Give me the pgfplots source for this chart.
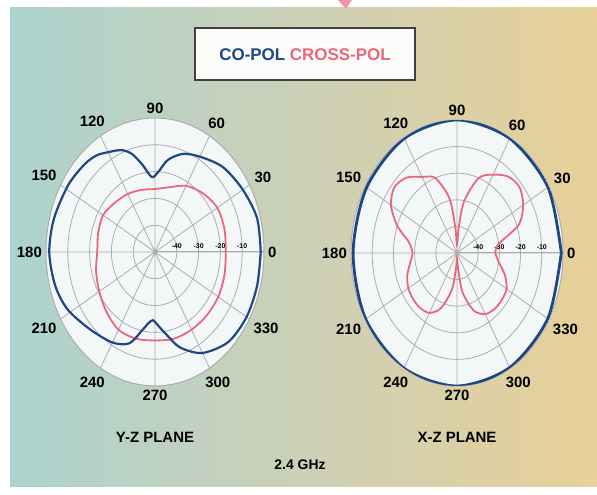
\documentclass[border=0pt]{standalone}
\usepackage{pgfplots}
\pgfplotsset{compat=1.18}
\usepgfplotslibrary{polar}
\usepackage{pgfplotstable}
\usepackage{fontspec}
\setmainfont{Liberation Sans}
\definecolor{bgL}{RGB}{172,211,206}
\definecolor{bgM}{RGB}{204,208,182}
\definecolor{bgR}{RGB}{232,208,152}
\definecolor{copol}{RGB}{30,70,130}
\definecolor{xpol}{RGB}{230,104,124}
\definecolor{plotbg}{RGB}{244,247,248}

% Y-Z plane, co-pol (dB)
\pgfplotstableread{
ang db
0 -1.5
15 -1.5
30 -3.5
45 -5.5
58 -8.5
70 -11
80 -15
87 -20
93 -22
100 -17
106 -12
112 -9
120 -7
127 -5
135 -4
148 -3
165 -2
180 -1.5
195 -2.5
208 -4.5
224 -8.5
240 -11
251 -14
259 -20.5
264 -23.5
268 -24.5
272 -23
280 -18.5
288 -12.5
300 -6.5
315 -2.5
330 -1.5
345 -1.5
360 -1.5
}\yzco
% Y-Z plane, cross-pol (dB)
\pgfplotstableread{
ang db
0 -17.5
15 -17
30 -17
45 -19
60 -21.5
75 -25
90 -26.5
105 -26
120 -25
135 -24
150 -22.5
165 -23
180 -23.5
195 -22
210 -20.5
225 -18.5
240 -16.5
255 -16.5
270 -17
285 -16.5
300 -16.5
315 -16.5
330 -16.5
345 -17
360 -17.5
}\yzx
% X-Z plane, co-pol (dB)
\pgfplotstableread{
ang db
0 -0.8
30 -0.5
60 -0.3
90 0
120 -0.3
150 -0.8
180 -1
210 -0.3
240 0
270 0
300 -0.3
330 -0.6
360 -0.8
}\xzco
% X-Z plane, cross-pol (dB)
\pgfplotstableread{
ang db
0 -32
10 -30
20 -19
30 -14
40 -11.5
50 -12.5
60 -16
70 -20
80 -30
85 -40
90 -47
95 -40
100 -29
110 -20
120 -17
130 -13
140 -11.5
150 -14
160 -20
170 -27
180 -29
190 -27.5
200 -25
210 -23.5
220 -23
230 -23
240 -24
250 -28
260 -36
265 -44
270 -48
275 -44
280 -35
290 -27
300 -23.5
310 -22.5
320 -22.5
330 -23
340 -26
350 -30
360 -32
}\xzx

\pgfplotsset{
  myp/.style={
    scale only axis,
    xmin=0, xmax=360,
    ymin=0, ymax=50,
    xtick={0,30,...,330},
    ytick={10,20,30,40},
    yticklabels={-40,-30,-20,-10},
    grid=major,
    major grid style={gray!65, line width=0.8pt},
    axis line style={gray!65, line width=1pt},
    xticklabel style={font=\fontsize{15}{15}\selectfont\bfseries, inner sep=4pt},
    yticklabel style={font=\fontsize{7}{7}\selectfont\bfseries},
    /pgf/number format/assume math mode=true,
    tick style={draw=none},
    axis background/.style={fill=plotbg},
  }
}

\begin{document}
\begin{tikzpicture}[x=1bp,y=1bp]
\path[use as bounding box] (0,0) rectangle (597,495);
\fill[white] (0,0) rectangle (597,495);
\shade[left color=bgL, right color=bgR, middle color=bgM] (10,8) rectangle (597,487);
\fill[xpol!70] (338,495) -- (352,495) -- (346,486) -- cycle;

% legend box
\draw[draw=black!75, line width=1.4pt, fill=white!92!bgM] (195,415) rectangle (415,467);
\node[font=\fontsize{17}{17}\selectfont\bfseries] at (305,440)
  {\textcolor{copol}{CO-POL} \textcolor{xpol}{CROSS-POL}};

\begin{polaraxis}[myp, width=218bp, height=268bp, at={(155bp,243bp)}, anchor=center]
\addplot[xpol, line width=1.8pt, smooth] table[x=ang, y expr=\thisrow{db}+50] {\yzx};
\addplot[copol, line width=2.2pt, smooth] table[x=ang, y expr=\thisrow{db}+50] {\yzco};
\end{polaraxis}

\begin{polaraxis}[myp, width=212bp, height=266bp, at={(457bp,242bp)}, anchor=center]
\addplot[xpol, line width=1.8pt, smooth] table[x=ang, y expr=\thisrow{db}+50] {\xzx};
\addplot[copol, line width=2.8pt, smooth] table[x=ang, y expr=\thisrow{db}+50] {\xzco};
\end{polaraxis}

\node[font=\fontsize{15}{15}\selectfont\bfseries] at (155,58) {Y-Z PLANE};
\node[font=\fontsize{15}{15}\selectfont\bfseries] at (457,58) {X-Z PLANE};
\node[font=\fontsize{14}{14}\selectfont\bfseries] at (300,30) {2.4 GHz};
\end{tikzpicture}
\end{document}
